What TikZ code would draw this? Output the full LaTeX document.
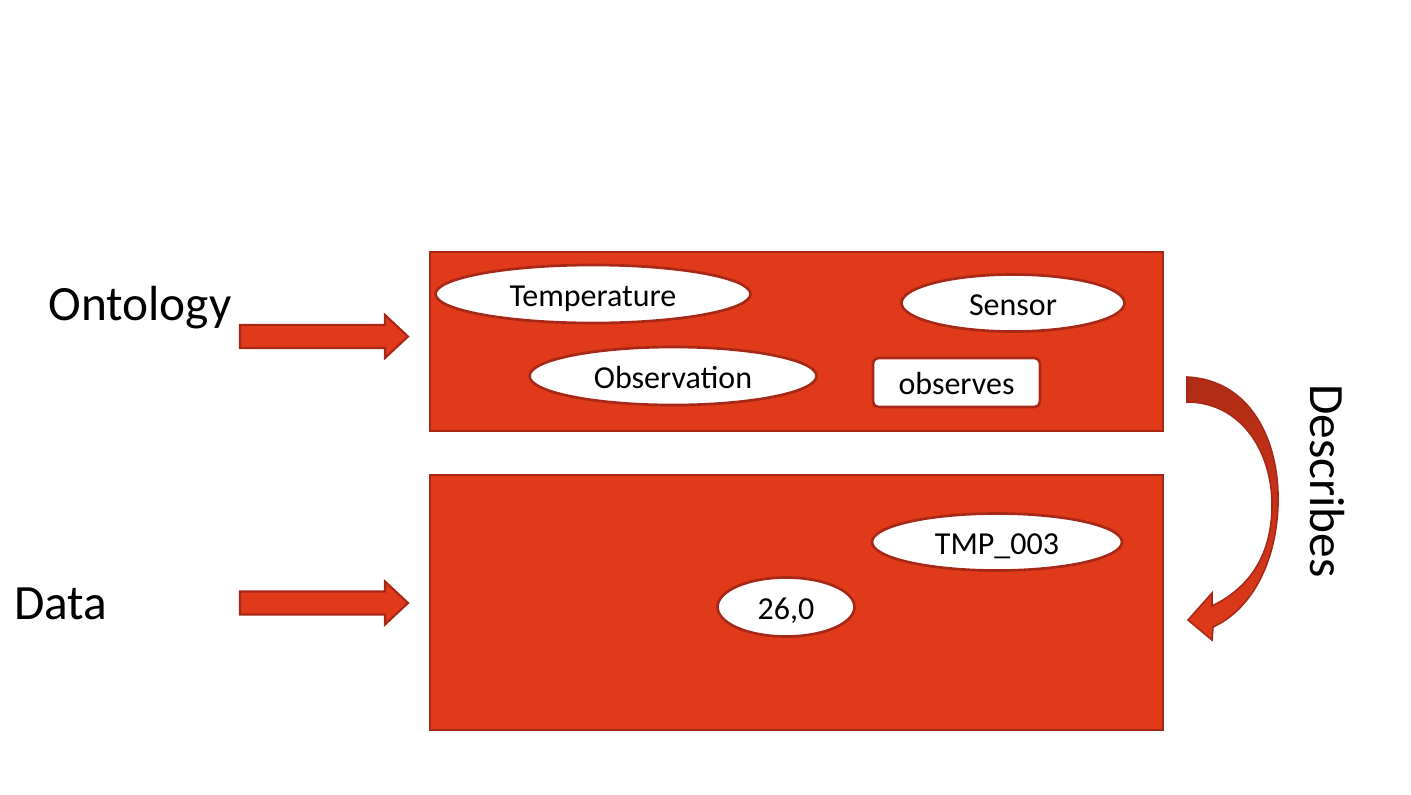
\documentclass[tikz,border=0pt]{standalone}
\usepackage{fontspec}
\setmainfont{Carlito}
\usetikzlibrary{shapes.geometric}
\definecolor{boxred}{RGB}{224,58,26}
\definecolor{edgered}{RGB}{168,40,24}
\definecolor{darkred}{RGB}{176,44,22}
\tikzset{
  panel/.style={rectangle, draw=edgered, fill=boxred, line width=1.8pt, inner sep=0pt},
  oval/.style={ellipse, draw=edgered, fill=white, line width=2pt, inner sep=0pt, font=\fontsize{24}{28}\selectfont, text height=20pt, text depth=2pt},
  rbox/.style={rectangle, rounded corners=4pt, draw=edgered, fill=white, line width=2pt, inner sep=0pt, font=\fontsize{24}{28}\selectfont, text height=20pt, text depth=2pt},
  biglabel/.style={font=\fontsize{37}{44}\selectfont, inner sep=0pt},
  blockarrow/.style={draw=edgered, fill=boxred, line width=1.6pt, line join=miter},
}
\begin{document}
\begin{tikzpicture}[x=0.75pt, y=-0.75pt]
\useasboundingbox (0,0) rectangle (1411,794);
% panels
\node[panel, minimum width=733*0.75pt, minimum height=179*0.75pt] (onto) at (796.5,341.5) {};
\node[panel, minimum width=733*0.75pt, minimum height=255*0.75pt] (data) at (796.5,602.5) {};
% ontology items
\node[oval, minimum width=315*0.75pt, minimum height=58*0.75pt] (temp) at (593,294) {Temperature};
\node[oval, minimum width=287*0.75pt, minimum height=58*0.75pt] (obs) at (673,376) {Observation};
\node[oval, minimum width=223*0.75pt, minimum height=57*0.75pt] (sensor) at (1013,303) {Sensor};
\node[rbox, minimum width=167*0.75pt, minimum height=49*0.75pt] (observes) at (956.5,382.5) {observes};
% data items
\node[oval, minimum width=250*0.75pt, minimum height=57*0.75pt] (tmp) at (997,542) {TMP\_003};
\node[oval, minimum width=137*0.75pt, minimum height=59*0.75pt] (val) at (786,607) {26,0};
% labels
\node[biglabel] (lonto) at (140,308) {Ontology};
\node[biglabel] (ldata) at (61,604) {Data};
\node[biglabel, rotate=-90] (ldesc) at (1327,481) {Describes};
% block arrows (tips)
\coordinate (t1) at (408,336.5);
\coordinate (t2) at (408,603);
\draw[blockarrow] (t1) -- ++(-23,-21.5) -- ++(0,10) -- ++(-145,0) -- ++(0,23) -- ++(145,0) -- ++(0,10) -- cycle;
\draw[blockarrow] (t2) -- ++(-23,-21.5) -- ++(0,10) -- ++(-145,0) -- ++(0,23) -- ++(145,0) -- ++(0,10) -- cycle;
% curved arrow
\coordinate (cs) at (1187,377);
\shade[top color=darkred, bottom color=boxred, draw=edgered, line width=1.2pt, line join=miter]
  (cs) .. controls (1250,380) and (1280,440) .. (1278,505)
  .. controls (1276,565) and (1250,610) .. (1213,627)
  -- (1212,640) -- (1188,620) -- (1212,593) -- (1212,606)
  .. controls (1245,590) and (1272,560) .. (1272,505)
  .. controls (1272,450) and (1240,402) .. (1187,402) -- cycle;
\end{tikzpicture}
\end{document}
